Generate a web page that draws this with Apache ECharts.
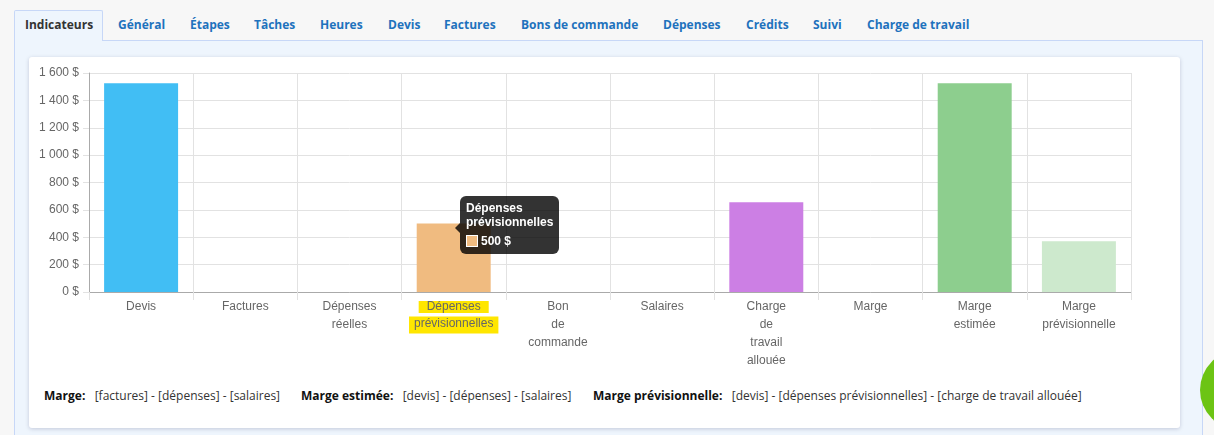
<!DOCTYPE html>
<html>
<head>
<meta charset="utf-8">
<script src="https://cdn.jsdelivr.net/npm/echarts@6/dist/echarts.min.js"></script>
<style>
  html,body{margin:0;padding:0;}
  body{width:1214px;height:435px;background:#f7f7f7;position:relative;overflow:hidden;font-family:"Open Sans",sans-serif;}
  .tab{position:absolute;top:16px;font-weight:bold;font-size:12px;color:#1e72bd;white-space:nowrap;}
  .tab.active{color:#333;}
  #activeTab{position:absolute;left:14px;top:10px;width:89px;height:31px;background:#eef5fd;border:1px solid #c7d7f7;border-bottom:none;box-sizing:border-box;border-radius:2px 2px 0 0;}
  #panel{position:absolute;left:14px;top:40px;width:1189px;height:420px;background:#eef5fd;border:1px solid #c7d7f7;box-sizing:border-box;}
  #card{position:absolute;left:29px;top:57px;width:1151px;height:371px;background:#fff;border-radius:3px;box-shadow:0 1px 4px rgba(0,0,60,0.18);}
  #chart{position:absolute;left:29px;top:57px;width:1151px;height:330px;}
  .f{position:absolute;top:387px;font-size:12px;color:#333;white-space:nowrap;}
  .f b{color:#111;}
  #dot{position:absolute;left:1200px;top:350px;width:80px;height:80px;border-radius:50%;background:#6cc414;}
</style>
</head>
<body>
<div id="panel"></div>
<div id="activeTab"></div>
<div id="tabs"></div>
<div id="card"></div>
<div id="chart"></div>
<div class="f" style="left:44px"><b>Marge:</b>&nbsp;&nbsp; [factures] - [dépenses] - [salaires]</div>
<div class="f" style="left:301px"><b>Marge estimée:</b>&nbsp;&nbsp; [devis] - [dépenses] - [salaires]</div>
<div class="f" style="left:593px"><b>Marge prévisionnelle:</b>&nbsp;&nbsp; [devis] - [dépenses prévisionnelles] - [charge de travail allouée]</div>
<div id="dot"></div>
<script>
// ---- data ----
const tabNames = ["Indicateurs","Général","Étapes","Tâches","Heures","Devis","Factures","Bons de commande","Dépenses","Crédits","Suivi","Charge de travail"];
const categories = ["Devis","Factures","Dépenses réelles","Dépenses prévisionnelles","Bon de commande","Salaires","Charge de travail allouée","Marge","Marge estimée","Marge prévisionnelle"];
const tickLabels = ["Devis","Factures","Dépenses\nréelles","Dépenses\nprévisionnelles","Bon\nde\ncommande","Salaires","Charge\nde\ntravail\nallouée","Marge","Marge\nestimée","Marge\nprévisionnelle"];
const values = [1525, 0, 0, 500, 0, 0, 655, 0, 1525, 370];
const barColors = ["#41bef4","#8ab8e8","#e8a0a0","#f0bb80","#a0a0e8","#e8d080","#cc7fe4","#a0d0e8","#8dce8e","#cde9cd"];
const yTicks = [0,200,400,600,800,1000,1200,1400,1600];
const highlighted = 3;

// tabs
const tabX = [25,118,190,254,320,388,444,521,663,746,813,867];
const tabsEl = document.getElementById('tabs');
tabNames.forEach((t,i)=>{
  const d=document.createElement('div');
  d.className='tab'+(i===0?' active':'');
  d.style.left=tabX[i]+'px';
  d.textContent=t;
  tabsEl.appendChild(d);
});

function fmtMoney(v){
  return String(v).replace(/\B(?=(\d{3})+(?!\d))/g,' ')+' $';
}

const chart = echarts.init(document.getElementById('chart'));
chart.setOption({
  animation:false,
  textStyle:{fontFamily:'"Liberation Sans", Arial, sans-serif'},
  grid:{left:60,right:49,top:16,bottom:95,containLabel:false},
  tooltip:{
    trigger:'item',
    triggerOn:'none',
    alwaysShowContent:true,
    transitionDuration:0,
    backgroundColor:'rgba(0,0,0,0.8)',
    borderWidth:0,
    padding:[5,6,6,6],
    extraCssText:'border-radius:6px;box-shadow:none;',
    position:function(){return [431,139];},
    formatter:function(p){
      const title = tickLabels[p.dataIndex].replace(/\n/g,'<br>');
      return '<div style="position:relative;font:bold 12px \'Liberation Sans\',Arial;color:#fff;line-height:14px;">'+
        '<span style="position:absolute;left:-11px;top:22px;width:0;height:0;border-top:5px solid transparent;border-bottom:5px solid transparent;border-right:5px solid rgba(0,0,0,0.8);"></span>'+
        title+
        '<div style="margin-top:5px;display:flex;align-items:center;"><span style="display:inline-block;width:10px;height:10px;background:'+barColors[p.dataIndex]+';border:1px solid #fff;margin-right:3px;"></span>'+fmtMoney(p.value)+'</div></div>';
    }
  },
  xAxis:{
    type:'category',
    data:categories,
    axisLine:{lineStyle:{color:'#aaa'}},
    axisTick:{show:true,length:8,lineStyle:{color:'#e2e2e2'}},
    splitLine:{show:true,lineStyle:{color:'#e2e2e2'}},
    axisLabel:{
      interval:0,
      color:'#666',
      fontSize:12,
      lineHeight:18,
      margin:6,
      formatter:function(v,i){
        const lab = tickLabels[i];
        if(i===highlighted){
          return lab.split('\n').map((s,k)=>'{'+(k===0?'hl1':'hl2')+'|'+s+'}').join('\n');
        }
        return lab;
      },
      rich:{
        hl1:{backgroundColor:'#ffe600',color:'#666',fontSize:12,lineHeight:18,padding:[0,8,0,8]},
        hl2:{backgroundColor:'#ffe600',color:'#666',fontSize:12,lineHeight:18,padding:[1,5,4,5]}
      }
    }
  },
  yAxis:{
    type:'value',
    min:0,max:1600,interval:200,
    axisLine:{show:true,lineStyle:{color:'#aaa'}},
    axisTick:{show:true,length:6,lineStyle:{color:'#e2e2e2'}},
    splitLine:{lineStyle:{color:'#e2e2e2'}},
    axisLabel:{color:'#666',fontSize:12,margin:10,formatter:function(v){return yTicks.indexOf(v)>=0?fmtMoney(v):'';}}
  },
  series:[{
    type:'bar',
    barWidth:'71%',
    emphasis:{disabled:true},
    data:values.map((v,i)=>({value:v,itemStyle:{color:barColors[i]}}))
  }]
});
chart.dispatchAction({type:'showTip',seriesIndex:0,dataIndex:highlighted});
</script>
</body>
</html>
